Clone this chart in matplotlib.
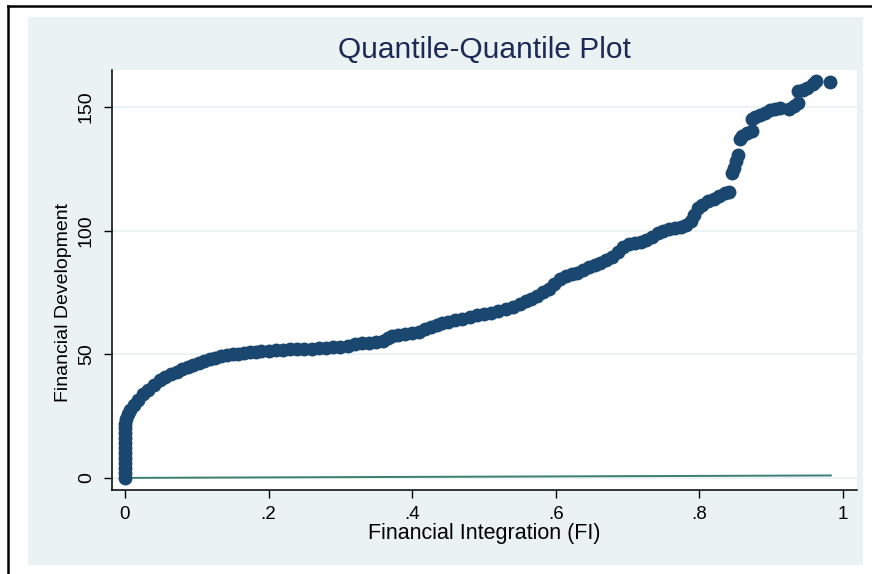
import numpy as np
import matplotlib.pyplot as plt
from matplotlib.lines import Line2D
from matplotlib.patches import Rectangle

plt.rcParams['font.family'] = ['Liberation Sans', 'DejaVu Sans']

# quantiles of Financial Integration (x) vs Financial Development (y)
fi_q = [0.000, 0.000, 0.000, 0.000, 0.000, 0.000, 0.000, 0.000, 0.000, 0.000,
        0.000, 0.000, 0.002, 0.004, 0.007, 0.012, 0.018, 0.025, 0.032, 0.040,
        0.049, 0.056, 0.064, 0.072, 0.080, 0.088, 0.095, 0.103, 0.110, 0.118,
        0.126, 0.134, 0.142, 0.150, 0.158, 0.166, 0.174, 0.182, 0.190, 0.200,
        0.210, 0.220, 0.230, 0.240, 0.250, 0.260, 0.270, 0.280, 0.290, 0.300,
        0.310, 0.320, 0.330, 0.340, 0.350, 0.360, 0.366, 0.372, 0.380, 0.390,
        0.400, 0.410, 0.418, 0.426, 0.434, 0.442, 0.450, 0.460, 0.470, 0.480,
        0.490, 0.500, 0.510, 0.520, 0.530, 0.540, 0.550, 0.558, 0.566, 0.574,
        0.582, 0.590, 0.598, 0.606, 0.614, 0.622, 0.630, 0.638, 0.646, 0.654,
        0.662, 0.670, 0.678, 0.686, 0.694, 0.702, 0.710, 0.718, 0.726, 0.734,
        0.742, 0.750, 0.758, 0.766, 0.774, 0.782, 0.788, 0.793, 0.798, 0.804,
        0.812, 0.820, 0.828, 0.836, 0.841, 0.845, 0.848, 0.851, 0.854, 0.857,
        0.860, 0.866, 0.873, 0.873, 0.878, 0.884, 0.891, 0.898, 0.905, 0.912,
        0.925, 0.932, 0.938, 0.937, 0.944, 0.950, 0.958, 0.962, 0.982]
fd_q = [0.0, 2.0, 4.0, 6.0, 8.0, 10.0, 12.0, 14.0, 16.0, 18.0,
        20.0, 22.0, 24.0, 26.0, 27.5, 29.5, 31.5, 34.0, 35.5, 37.5,
        39.6, 41.0, 42.0, 43.0, 44.0, 45.0, 45.7, 46.5, 47.3, 48.0,
        48.6, 49.2, 49.7, 50.0, 50.3, 50.6, 50.8, 51.0, 51.2, 51.4,
        51.6, 51.8, 52.0, 52.1, 52.2, 52.3, 52.4, 52.6, 52.8, 53.1,
        53.5, 54.0, 54.4, 54.6, 54.8, 55.3, 56.5, 57.5, 58.0, 58.3,
        58.6, 59.2, 60.2, 61.2, 62.0, 62.5, 63.0, 63.7, 64.4, 65.2,
        65.8, 66.3, 66.8, 67.5, 68.3, 69.2, 70.2, 71.5, 72.5, 73.5,
        75.0, 76.5, 78.5, 80.3, 81.5, 82.3, 83.0, 84.0, 85.3, 86.0,
        86.8, 88.0, 89.5, 91.5, 93.5, 94.5, 95.0, 95.5, 96.3, 97.5,
        99.0, 100.0, 100.5, 101.0, 101.5, 102.5, 104.0, 106.5, 109.0, 110.5,
        112.0, 113.0, 114.2, 115.3, 115.8, 123.5, 125.5, 128.0, 130.5, 137.0,
        138.3, 139.5, 140.5, 145.0, 146.0, 146.7, 147.5, 148.7, 149.3, 149.6,
        149.2, 150.3, 151.5, 156.5, 157.0, 157.6, 159.5, 160.5, 160.2]

# reference line y = x
ref_x = [0.0, 0.983]
ref_y = [0.0, 0.983]

xticks = [0, 0.2, 0.4, 0.6, 0.8, 1.0]
xlabels = ['0', '.2', '.4', '.6', '.8', '1']
yticks = [0, 50, 100, 150]

fig = plt.figure(figsize=(8.72, 5.74), dpi=100)
W, H = 872, 574

# light outer panel + black frame lines (top and left)
fig.add_artist(Rectangle((28 / W, 1 - 565 / H), (863 - 28) / W, (565 - 17) / H,
                         transform=fig.transFigure, facecolor='#EAF2F3',
                         edgecolor='none', zorder=0))
fig.add_artist(Line2D([8 / W, 1.0], [1 - 6 / H, 1 - 6 / H], transform=fig.transFigure,
                      color='black', lw=1.8))
fig.add_artist(Line2D([8 / W, 8 / W], [0, 1 - 6 / H], transform=fig.transFigure,
                      color='black', lw=1.8))

ax = fig.add_axes([112 / W, 1 - 490 / H, (857 - 112) / W, (490 - 70) / H])
ax.set_facecolor('white')

ax.plot(ref_x, ref_y, color='#3A7F70', lw=1.4, zorder=2)
ax.plot(fi_q, fd_q, 'o', color='#1A476F', ms=10, mec='none', zorder=3)

ax.set_xlim(-0.018, 1.0195)
ax.set_ylim(-4.9, 165)

ax.set_xticks(xticks)
ax.set_xticklabels(xlabels)
ax.set_yticks(yticks)
ax.set_yticklabels([str(v) for v in yticks], rotation=90, va='center')
ax.tick_params(axis='both', direction='out', length=5.8, width=1.0, colors='black')
ax.tick_params(axis='x', labelsize=13.5, pad=5.5)
ax.tick_params(axis='y', labelsize=14, pad=6.5)

ax.grid(axis='y', color='#EAF2F3', lw=1.3, zorder=1)
ax.set_axisbelow(True)

for s in ['top', 'right']:
    ax.spines[s].set_visible(False)
for s in ['left', 'bottom']:
    ax.spines[s].set_linewidth(1.1)
    ax.spines[s].set_color('black')

ax.set_xlabel('Financial Integration (FI)', fontsize=15.5, va='center')
ax.xaxis.set_label_coords(0.5, (490 - 533) / 420)
ax.set_ylabel('Financial Development', fontsize=14, va='center')
ax.yaxis.set_label_coords((63 - 112) / 745, (490 - 303) / 420)

ax.set_title('Quantile-Quantile Plot', fontsize=21.5, color='#1C2A55',
             y=(490 - 50) / 420, va='center', pad=0)

fig.savefig('out.png', dpi=100)
